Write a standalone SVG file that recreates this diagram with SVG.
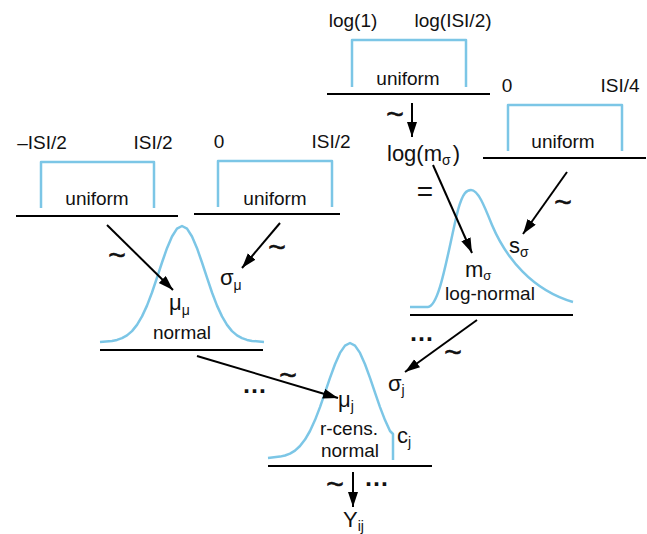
<svg xmlns="http://www.w3.org/2000/svg" width="647" height="534" viewBox="0 0 647 534">
  <style>
    .base { stroke: #000; stroke-width: 2; fill: none; }
    .dens { stroke: #7cc6e6; stroke-width: 2.5; fill: none; stroke-linejoin: round; }
    .lbl { font-family: "Liberation Sans", Arial, sans-serif; font-size: 19px; fill: #111; text-anchor: middle; }
    .var { font-family: "Liberation Sans", Arial, sans-serif; font-size: 22px; fill: #111; }
    .sub { font-size: 14px; }
    .tl { font-family: "Liberation Sans", Arial, sans-serif; font-size: 30px; fill: #111; stroke: #111; stroke-width: 0.6; text-anchor: middle; }
    .dots { font-family: "Liberation Sans", Arial, sans-serif; font-size: 25px; font-weight: bold; fill: #111; }
    .arr { stroke: #000; stroke-width: 2; fill: none; marker-end: url(#head); }
  </style>
  <defs>
    <marker id="head" markerUnits="userSpaceOnUse" markerWidth="16" markerHeight="11" refX="15" refY="5" orient="auto">
      <path d="M0,0 L15,5 L0,10 z" fill="#000"/>
    </marker>
  </defs>

  <!-- uniform prior on log(m_sigma) -->
  <g id="unif-logm">
    <path class="dens" d="M352,87 V40 H466 V87"/>
    <line class="base" x1="327" y1="94" x2="490" y2="94"/>
    <text class="lbl" x="353" y="27">log(1)</text>
    <text class="lbl" x="453" y="27">log(ISI/2)</text>
    <text class="lbl" x="408" y="85">uniform</text>
  </g>

  <!-- uniform prior on s_sigma -->
  <g id="unif-s">
    <path class="dens" d="M508,151 V105 H622 V151"/>
    <line class="base" x1="483" y1="158" x2="646" y2="158"/>
    <text class="lbl" x="507" y="92">0</text>
    <text class="lbl" x="620" y="92">ISI/4</text>
    <text class="lbl" x="563" y="148">uniform</text>
  </g>

  <!-- uniform prior on mu_mu -->
  <g id="unif-mu">
    <path class="dens" d="M41,208 V162 H154 V208"/>
    <line class="base" x1="16" y1="216" x2="178" y2="216"/>
    <text class="lbl" x="42" y="149">–ISI/2</text>
    <text class="lbl" x="153" y="149">ISI/2</text>
    <text class="lbl" x="97" y="205">uniform</text>
  </g>

  <!-- uniform prior on sigma_mu -->
  <g id="unif-sigma">
    <path class="dens" d="M218,207 V161 H332 V207"/>
    <line class="base" x1="194" y1="214" x2="340" y2="214"/>
    <text class="lbl" x="219" y="148">0</text>
    <text class="lbl" x="331" y="148">ISI/2</text>
    <text class="lbl" x="275" y="205">uniform</text>
  </g>

  <!-- log(m_sigma) node -->
  <g id="node-logm">
    <text class="var" x="387" y="161">log(m<tspan class="sub" dy="4">σ</tspan><tspan dy="-4" dx="2">)</tspan></text>
    <text class="var" x="425" y="201" style="font-size:28px;text-anchor:middle">=</text>
  </g>

  <!-- normal distribution for mu_j -->
  <g id="dist-normal">
    <path class="dens" d="M100,342 L112,340.9 L117,339.9 L122,338.1 L127,335.4 L132,331.1 L137,324.9 L142,316.4 L147,305.6 L152,292.5 L157,277.7 L162,262.5 L167,248.2 L172,236.5 L177,228.7 L182,226 L187,228.7 L192,236.5 L197,248.2 L202,262.5 L207,277.7 L212,292.5 L217,305.6 L222,316.4 L227,324.9 L232,331.1 L237,335.4 L242,338.1 L247,339.9 L252,340.9 L264,342"/>
    <line class="base" x1="100" y1="350" x2="263" y2="350"/>
    <text class="lbl" x="182" y="339">normal</text>
  </g>
  <g id="node-mumu">
    <text class="var" x="169" y="310">μ<tspan class="sub" dy="5">μ</tspan></text>
  </g>
  <g id="node-sigmamu">
    <text class="var" x="220" y="285">σ<tspan class="sub" dy="5">μ</tspan></text>
  </g>

  <!-- log-normal distribution for sigma_j -->
  <g id="dist-lognormal">
    <path class="dens" d="M410,307 L428,307 C440,306 448,250 458,210 C463,192 467,190 471,190 C478,190 484,205 492,225 C506,258 532,290 573,302"/>
    <line class="base" x1="410" y1="315" x2="573" y2="315"/>
    <text class="lbl" x="490" y="300">log-normal</text>
  </g>
  <g id="node-msigma">
    <text class="var" x="465" y="277">m<tspan class="sub" style="font-size:13px" dy="3">σ</tspan></text>
  </g>
  <g id="node-ssigma">
    <text class="var" x="509" y="253">s<tspan class="sub" dy="4">σ</tspan></text>
  </g>

  <!-- right-censored normal for Y_ij -->
  <g id="dist-rcens">
    <path class="dens" d="M268,458 L280,456.6 L285,455.5 L290,453.6 L295,450.6 L300,446 L305,439.6 L310,431 L315,420.1 L320,407.1 L325,392.7 L330,377.9 L335,364.2 L340,352.9 L345,345.6 L350,343 L355,345.6 L360,352.9 L365,364.2 L370,377.9 L375,392.7 L380,407.1 L385,420.1 L390,431 L393,434 V460"/>
    <line class="base" x1="268" y1="466" x2="432" y2="466"/>
    <text class="lbl" x="349" y="435">r-cens.</text>
    <text class="lbl" x="350" y="457">normal</text>
  </g>
  <g id="node-muj">
    <text class="var" x="338" y="407">μ<tspan class="sub" dy="4">j</tspan></text>
  </g>
  <g id="node-sigmaj">
    <text class="var" x="388" y="391">σ<tspan class="sub" dy="4">j</tspan></text>
  </g>
  <g id="node-cj">
    <text class="var" x="397" y="443">c<tspan class="sub" dy="4">j</tspan></text>
  </g>
  <g id="node-yij">
    <text class="var" x="343" y="527">Y<tspan class="sub" dy="4">ij</tspan></text>
  </g>

  <!-- connectors -->
  <g id="connectors">
    <line class="arr" x1="412" y1="103" x2="412" y2="137"/>
    <line class="arr" x1="433" y1="165" x2="472" y2="253"/>
    <line class="arr" x1="567" y1="172" x2="523" y2="234"/>
    <line class="arr" x1="107" y1="225" x2="173" y2="290"/>
    <line class="arr" x1="280" y1="223" x2="242" y2="268"/>
    <line class="arr" x1="197" y1="356" x2="338" y2="398"/>
    <line class="arr" x1="477" y1="320" x2="405" y2="372"/>
    <line class="arr" x1="353" y1="472" x2="353" y2="507"/>

    <text class="tl" x="395" y="124">~</text>
    <text class="tl" x="117" y="265">~</text>
    <text class="tl" x="277" y="257">~</text>
    <text class="tl" x="563" y="212">~</text>
    <text class="tl" x="288" y="385">~</text>
    <text class="tl" x="453" y="362">~</text>
    <text class="tl" x="335" y="494">~</text>

    <text class="dots" x="242" y="393">…</text>
    <text class="dots" x="409" y="341">…</text>
    <text class="dots" x="364" y="486">…</text>
  </g>
</svg>
